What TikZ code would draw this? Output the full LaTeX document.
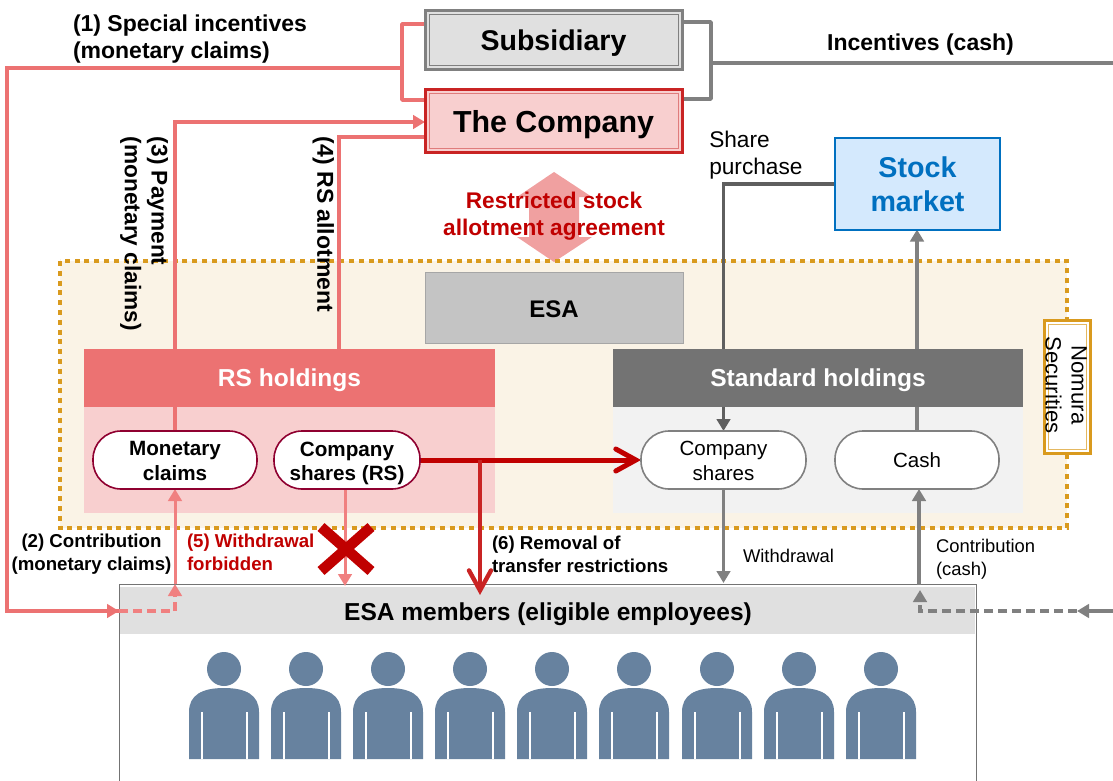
\documentclass[tikz,border=0pt]{standalone}
\usepackage{fontspec}
\setmainfont{Liberation Sans}
\usetikzlibrary{arrows.meta,calc}
\pgfdeclarelayer{bg}
\pgfdeclarelayer{lines}
\pgfsetlayers{bg,lines,main}
\definecolor{pinkl}{HTML}{EC7272}
\definecolor{pinkm}{HTML}{F08080}
\definecolor{pinkb}{HTML}{F8CFCF}
\definecolor{hexa}{HTML}{F0A0A0}
\definecolor{darkred}{HTML}{C00000}
\definecolor{midred}{HTML}{C92424}
\definecolor{grayl}{HTML}{808080}
\definecolor{grayd}{HTML}{5F5F5F}
\definecolor{hdr}{HTML}{737373}
\definecolor{orng}{HTML}{D99A1E}
\definecolor{cream}{HTML}{FAF3E6}
\definecolor{blu}{HTML}{0070C0}
\definecolor{blub}{HTML}{D4E9FD}
\definecolor{person}{HTML}{67829F}
\def\px{0.75pt}
\tikzset{
  x=0.75pt,y=-0.75pt,
  t14/.style={inner sep=0pt,outer sep=0pt,font=\fontsize{13.8}{17}\selectfont},
  t14b/.style={inner sep=0pt,outer sep=0pt,font=\fontsize{14}{17}\selectfont\bfseries},
  t17b/.style={inner sep=0pt,outer sep=0pt,font=\fontsize{17}{20}\selectfont\bfseries},
  t17c/.style={inner sep=0pt,outer sep=0pt,font=\fontsize{17.25}{20}\selectfont\bfseries},
  sized/.style n args={2}{minimum width=#1*\px,minimum height=#2*\px,inner sep=0pt,outer sep=0pt},
  oval/.style={draw,rounded corners=28*\px,fill=white,line width=1.6*\px,align=center},
  oa/.style={oval,draw=#1,font=\fontsize{15.5}{18.5}\selectfont\bfseries},
  ob/.style={oval,draw=#1,font=\fontsize{15.4}{18.5}\selectfont},
  conn/.style={line width=3.5*\px,draw=#1},
  tipA/.style={-{Triangle[length=12*\px,width=13.5*\px]}},
  tipB/.style={-{Straight Barb[length=20*\px,width=22*\px,line cap=round]}},
}
\begin{document}
\begin{tikzpicture}
\useasboundingbox (0,0) rectangle (1113,781);
% --- backgrounds
\begin{pgfonlayer}{bg}
\node[sized={1007}{267},fill=cream] (region) at (563.5,394.5) {};
\fill[hexa] (554,172) -- (592,197) -- (579,197) -- (579,237) -- (592,237) -- (554,262) -- (517,237) -- (529,237) -- (529,197) -- (517,197) -- cycle;
\draw[orng,line width=4.2*\px,dash pattern=on 5*\px off 4.8*\px] (region.north west) rectangle (region.south east);
\node[sized={411}{106},fill=pinkb] (rsbody) at (289.5,460) {};
\node[sized={410}{106},fill=black!5] (stbody) at (818,460) {};
\node[sized={857}{199},draw=black!55,line width=1*\px,fill=white] (members) at (547.5,683.5) {};
\node[sized={855}{47},fill=black!12] (memhead) at (547,610.5) {};
\end{pgfonlayer}
% --- nodes
\node[sized={257}{59},draw=grayl,line width=3*\px,fill=black!12,text height=20.1pt,text depth=4.5pt,font=\fontsize{21.4}{25}\selectfont\bfseries] (sub) at (553.5,40) {Subsidiary};
\draw[grayl,line width=1*\px] ($(sub.north west)+(4,4)$) rectangle ($(sub.south east)+(-4,-4)$);
\node[sized={257}{63},draw=midred,line width=3*\px,fill=pinkb,text height=21.1pt,text depth=4.8pt,font=\fontsize{22.8}{27}\selectfont\bfseries] (co) at (553.5,121.5) {The Company};
\draw[midred!60!white,line width=1*\px] ($(co.north west)+(4,4)$) rectangle ($(co.south east)+(-4,-4)$);
\node[sized={165}{91},draw=blu,line width=2*\px,fill=blub,text=blu,align=center,font=\fontsize{21.5}{25.5}\selectfont\bfseries] (market) at (917.5,184) {Stock\\market};
\node[sized={258}{71},draw=black!35,line width=1*\px,fill=black!23,text height=14.6pt,text depth=0.3pt,font=\fontsize{18}{21}\selectfont\bfseries] (esa) at (554,307.5) {ESA};
\node[sized={411}{58},fill=pinkl,text=white,text height=16.4pt,text depth=3.9pt,font=\fontsize{18.4}{22}\selectfont\bfseries] (rshead) at (289.5,378) {RS holdings};
\node[sized={410}{58},fill=hdr,text=white,text height=16.4pt,text depth=3.9pt,font=\fontsize{18.4}{22}\selectfont\bfseries] (sthead) at (818,378) {Standard holdings};
\node[sized={164}{58},oa=purple!75!black,text height=30.7pt,text depth=0.2pt] (mon) at (175,460) {Monetary\\claims};
\node[sized={146}{58},oa=purple!75!black,text height=34.3pt,text depth=3.3pt] (rs) at (347,460) {Company\\shares (RS)};
\node[sized={165}{58},ob=grayl,text height=31pt,text depth=0.2pt] (cs) at (723.5,460) {Company\\shares};
\node[sized={164}{58},ob=grayl] (cash) at (917,460) {Cash};
\node[sized={46}{133},draw=orng,line width=3*\px,fill=white] (nom) at (1067,386.5) {};
\draw[orng!70!white,line width=1*\px] ($(nom.north west)+(4,4)$) rectangle ($(nom.south east)+(-4,-4)$);
\node[inner sep=0pt,rotate=-90,align=center,font=\fontsize{16.6}{19.5}\selectfont] (nomt) at (1066,385) {Nomura\\Securities};
\node[inner sep=0pt,font=\fontsize{18.4}{21}\selectfont\bfseries] (memt) at (548,614) {ESA members (eligible employees)};
% --- labels
\node[t17c,anchor=north west,align=left] (l1) at (73,15) {(1) Special incentives\\(monetary claims)};
\node[t17c,anchor=north] (l0) at (920.5,34) {Incentives (cash)};
\node[inner sep=0pt,anchor=north west,align=left,font=\fontsize{17}{20}\selectfont] (lsp) at (709,131) {Share\\purchase};
\node[t17b,rotate=-90,anchor=north west,align=left] (l3) at (168,137) {(3) Payment\\(monetary claims)};
\node[t17c,rotate=-90,anchor=north west,align=left] (l4) at (334,137) {(4) RS allotment};
\node[t17b,text=darkred,align=center] (lra) at (554,216.5) {Restricted stock\\allotment agreement};
\node[t14b,align=center] (l2) at (91.5,554) {(2) Contribution\\(monetary claims)};
\node[t14b,text=darkred,anchor=west,align=left] (l5) at (187,552.5) {(5) Withdrawal\\forbidden};
\node[t14b,anchor=west,align=left] (l6) at (492,554) {(6) Removal of\\transfer restrictions};
\node[t14,anchor=west] (lw) at (743,556) {Withdrawal};
\node[t14,anchor=west,align=left] (lc) at (936,559.5) {Contribution\\(cash)};
% --- connectors
\coordinate (a1) at (402,24);
\coordinate (a2) at (402,100);
\coordinate (a3) at (402,68);
\coordinate (a4) at (7,68);
\coordinate (a5) at (7,611);
\coordinate (a6) at (175,611);
\coordinate (a7) at (175,584);
\coordinate (a8) at (175,122);
\coordinate (a9) at (339,137);
\coordinate (g1) at (711,22);
\coordinate (g2) at (711,99);
\coordinate (g3) at (711,63);
\coordinate (g4) at (1113,63);
\coordinate (g5) at (1113,611);
\coordinate (g6) at (1077,611);
\coordinate (g7) at (920,611);
\coordinate (g8) at (920,590);
\coordinate (g9) at (723.5,184);
\coordinate (r1) at (480,460);
\begin{pgfonlayer}{lines}
\draw[conn=pinkl,line join=round] (sub.west |- a1) -- (a1) -- (a2) -- (co.west |- a2);
\draw[conn=pinkl] (a3) -- (a4) -- (a5) -- (members.west |- a5) coordinate (a5e);
\draw[conn=pinkl,tipA] (a5) -- (a5e);
\draw[conn=pinkm,dash pattern=on 9*\px off 5*\px] (a5e) -- (a6) -- ($(a7)+(0,10)$);
\draw[conn=pinkm,tipA] ($(a7)+(0,10)$) -- (a7);
\draw[conn=pinkm,line width=3*\px,tipA] (a7) -- (a7 |- mon.south);
\draw[conn=pinkl,tipA] (mon.north -| a8) -- (a8) -- (co.west |- a8);
\draw[conn=pinkl] (rshead.north -| a9) -- (a9) -- (co.west |- a9);
\draw[conn=pinkm,line width=3*\px,tipA] (rs.south) ++(-2,0) -- ($(members.north -| rs.south)+(-2,2)$);
\draw[conn=darkred,line width=5*\px,tipB] (rs.east) -- (cs.west);
\draw[conn=midred,line width=4.4*\px,tipB] (r1) -- ($(members.north -| r1)+(0,11)$);
\draw[conn=grayl,line width=3.5*\px,line join=round] (sub.east |- g1) -- (g1) -- (g2) -- (co.east |- g2);
\draw[conn=grayl] (g3) -- (g4);
\draw[conn=grayd,tipA] (market.west |- g9) -- (g9) -- (cs.north);
\draw[conn=grayl,tipA] (cash.north) -- (market.south -| cash.north);
\draw[conn=grayl,tipA] (cash.south) ++(2,96) -- ($(cash.south)+(2,0)$);
\draw[conn=grayl,tipA] (cs.south) -- ($(members.north -| cs.south)+(0,-1)$);
\draw[conn=grayl,tipA] (g5) -- (g6);
\draw[conn=grayl,dash pattern=on 9*\px off 5*\px] (g6) -- (g7) -- ($(g8)+(0,12)$);
\draw[conn=grayl,tipA] ($(g8)+(0,12)$) -- (g8);
\end{pgfonlayer}
% --- cross
\draw[darkred,line width=10.5*\px] (321,527) -- (371,571) (371,527) -- (321,571);
% --- people
\foreach \xx in {224,306,388,470,552,634,717,799,881}{
  \begin{scope}[shift={(\xx,0)}]
    \fill[person] (0,669) circle (17*\px);
    \fill[person] (-35,759) -- (-35,712) .. controls (-35,695) and (-22,688) .. (0,688)
       .. controls (22,688) and (35,695) .. (35,712) -- (35,759) -- cycle;
    \draw[white,line width=1.5*\px] (-22,712) -- (-22,759) (23,712) -- (23,759);
  \end{scope}
}
\end{tikzpicture}
\end{document}
